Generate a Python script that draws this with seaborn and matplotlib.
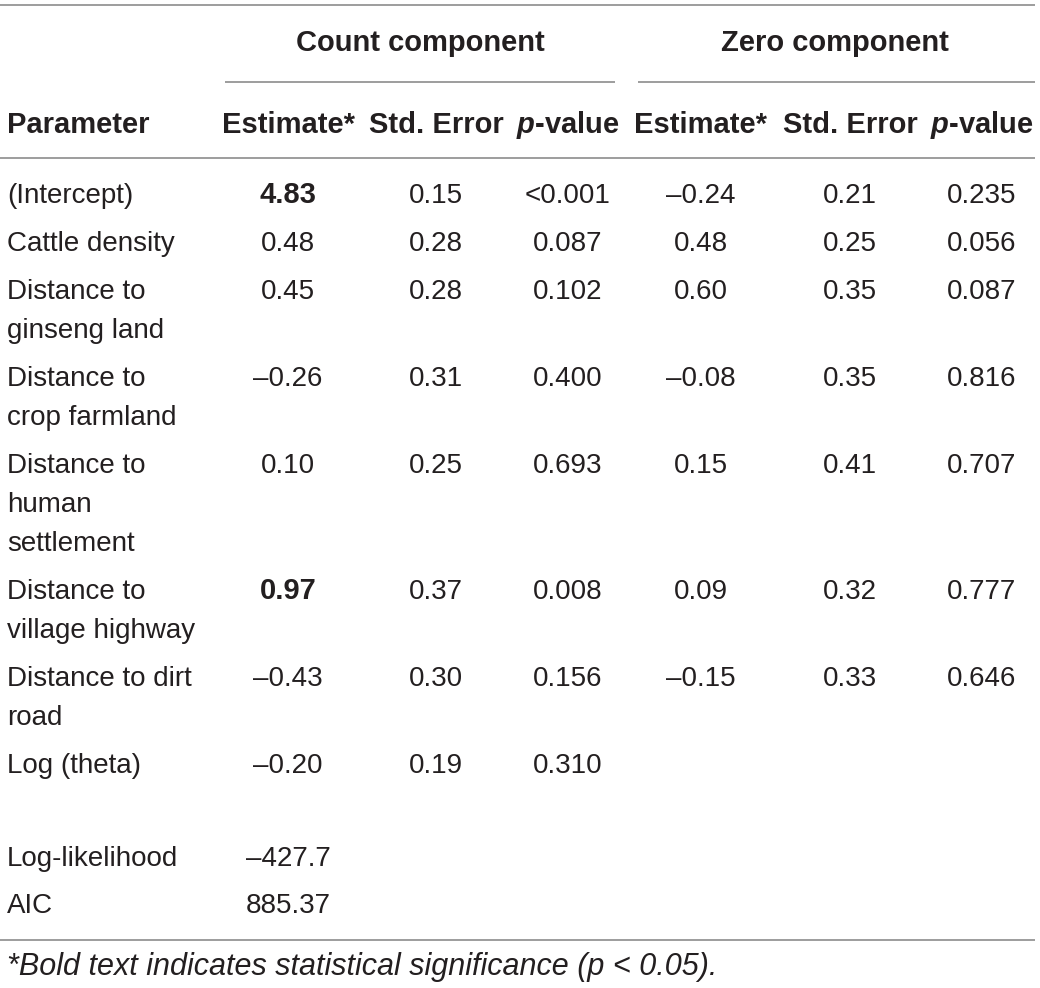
import matplotlib
matplotlib.use("Agg")
import matplotlib.pyplot as plt
import seaborn as sns

# Table contents
parameters = ["(Intercept)", "Cattle density", "Distance to\nginseng land",
              "Distance to\ncrop farmland", "Distance to\nhuman\nsettlement",
              "Distance to\nvillage highway", "Distance to dirt\nroad", "Log (theta)"]
count_est = [4.83, 0.48, 0.45, -0.26, 0.10, 0.97, -0.43, -0.20]
count_se = [0.15, 0.28, 0.28, 0.31, 0.25, 0.37, 0.30, 0.19]
count_p = ["<0.001", "0.087", "0.102", "0.400", "0.693", "0.008", "0.156", "0.310"]
zero_est = [-0.24, 0.48, 0.60, -0.08, 0.15, 0.09, -0.15, None]
zero_se = [0.21, 0.25, 0.35, 0.35, 0.41, 0.32, 0.33, None]
zero_p = ["0.235", "0.056", "0.087", "0.816", "0.707", "0.777", "0.646", ""]
significant = [True, False, False, False, False, True, False, False]
fit_labels = ["Log-likelihood", "AIC"]
fit_values = ["\u2013427.7", "885.37"]
col_headers = ["Estimate*", "Std. Error", "$\\it{p}$-value"]
group_headers = ["Count component", "Zero component"]
footnote = "*Bold text indicates statistical significance (p < 0.05)."

sns.set_theme(style="white")
plt.rcParams["font.family"] = ["Liberation Sans", "DejaVu Sans"]
plt.rcParams["mathtext.fontset"] = "custom"
plt.rcParams["mathtext.it"] = "Liberation Sans:italic:bold"

TXT = "#231f20"
RULE = "#8c8c8c"
FS = 20      # body text
FS_B = 21    # bold headers


def fmt(v):
    if v is None:
        return ""
    return f"{v:.2f}".replace("-", "\u2013")


fig = plt.figure(figsize=(10.4, 9.88), dpi=100)
ax = fig.add_axes([0, 0, 1, 1])
ax.set_xlim(0, 1040)
ax.set_ylim(988, 0)
ax.axis("off")

# column layout (pixel units)
x_label = 7
count_x = [288, 436, 568]
zero_x = [701, 850, 982]
line_h = 39
row_gap = 48

# rules
ax.hlines(5, 0, 1035, color=RULE, lw=1.2)
ax.hlines(82, 225, 615, color=RULE, lw=1.2)
ax.hlines(82, 638, 1035, color=RULE, lw=1.2)
ax.hlines(158, 0, 1035, color=RULE, lw=1.2)
ax.hlines(940, 0, 1035, color=RULE, lw=1.2)

# group headers
ax.text(420, 51, group_headers[0], ha="center", va="baseline", fontsize=FS_B,
        fontweight="bold", color=TXT)
ax.text(835, 51, group_headers[1], ha="center", va="baseline", fontsize=FS_B,
        fontweight="bold", color=TXT)

# column headers
ax.text(x_label, 133, "Parameter", ha="left", va="baseline", fontsize=FS_B,
        fontweight="bold", color=TXT)
for xs in (count_x, zero_x):
    for x, h in zip(xs, col_headers):
        ax.text(x, 133, h, ha="center", va="baseline", fontsize=FS_B,
                fontweight="bold", color=TXT)

# body rows
y = 203
for i, p in enumerate(parameters):
    lines = p.split("\n")
    for k, ln in enumerate(lines):
        ax.text(x_label, y + k * line_h, ln, ha="left", va="baseline",
                fontsize=FS, color=TXT)
    cells = [fmt(count_est[i]), fmt(count_se[i]), count_p[i]]
    for j, (x, c) in enumerate(zip(count_x, cells)):
        bold = significant[i] and j == 0
        ax.text(x, y, c, ha="center", va="baseline", color=TXT,
                fontsize=FS_B if bold else FS,
                fontweight="bold" if bold else "normal")
    cells = [fmt(zero_est[i]), fmt(zero_se[i]), zero_p[i]]
    for x, c in zip(zero_x, cells):
        ax.text(x, y, c, ha="center", va="baseline", fontsize=FS, color=TXT)
    y += (len(lines) - 1) * line_h + row_gap

# model fit statistics
y = 866
for lab, v in zip(fit_labels, fit_values):
    ax.text(x_label, y, lab, ha="left", va="baseline", fontsize=FS, color=TXT)
    ax.text(count_x[0], y, v, ha="center", va="baseline", fontsize=FS, color=TXT)
    y += 47

ax.text(x_label, 975, footnote, ha="left", va="baseline", fontsize=22,
        fontstyle="italic", color=TXT)

fig.savefig("out.png", dpi=100, facecolor="white")
